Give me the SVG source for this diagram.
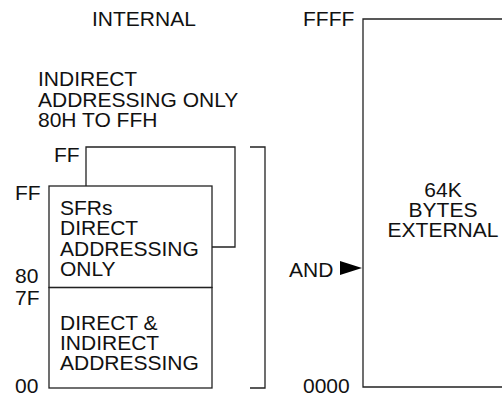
<svg xmlns="http://www.w3.org/2000/svg" width="502" height="396" viewBox="0 0 502 396">
<style>
text{font-family:"Liberation Sans",Arial,sans-serif;font-size:21px;fill:#111}
.ln{fill:none;stroke:#222;stroke-width:1.3}
</style>
<rect width="502" height="396" fill="#fff"/>
<g id="titles">
<text x="92" y="26">INTERNAL</text>
<text x="38" y="86">INDIRECT</text>
<text x="38" y="106.5">ADDRESSING ONLY</text>
<text x="38" y="127">80H TO FFH</text>
</g>
<g id="indirect-ram">
<path class="ln" d="M86 186 V147 H235 V247 H212"/>
<text x="54" y="162">FF</text>
</g>
<g id="sfr-block">
<rect class="ln" x="49" y="186" width="163" height="101.5"/>
<text x="15" y="200">FF</text>
<text x="15" y="283">80</text>
<text x="60" y="215">SFRs</text>
<text x="60" y="235">DIRECT</text>
<text x="60" y="255.5">ADDRESSING</text>
<text x="60" y="276">ONLY</text>
</g>
<g id="direct-block">
<rect class="ln" x="49" y="287.5" width="163" height="100.5"/>
<text x="15" y="305">7F</text>
<text x="15" y="393">00</text>
<text x="60" y="330">DIRECT &amp;</text>
<text x="60" y="350">INDIRECT</text>
<text x="60" y="370">ADDRESSING</text>
</g>
<g id="external">
<path class="ln" d="M505 19 H363 V387 H505"/>
<text x="303" y="26">FFFF</text>
<text x="303" y="393">0000</text>
<text x="443" y="197" text-anchor="middle">64K</text>
<text x="443" y="217" text-anchor="middle">BYTES</text>
<text x="443" y="237" text-anchor="middle">EXTERNAL</text>
</g>
<g id="connectors">
<path class="ln" d="M250 147 H265 V388 H250"/>
<text x="289" y="277">AND</text>
<path d="M340 261 L362 268 L340 275 Z" fill="#000"/>
</g>
</svg>
